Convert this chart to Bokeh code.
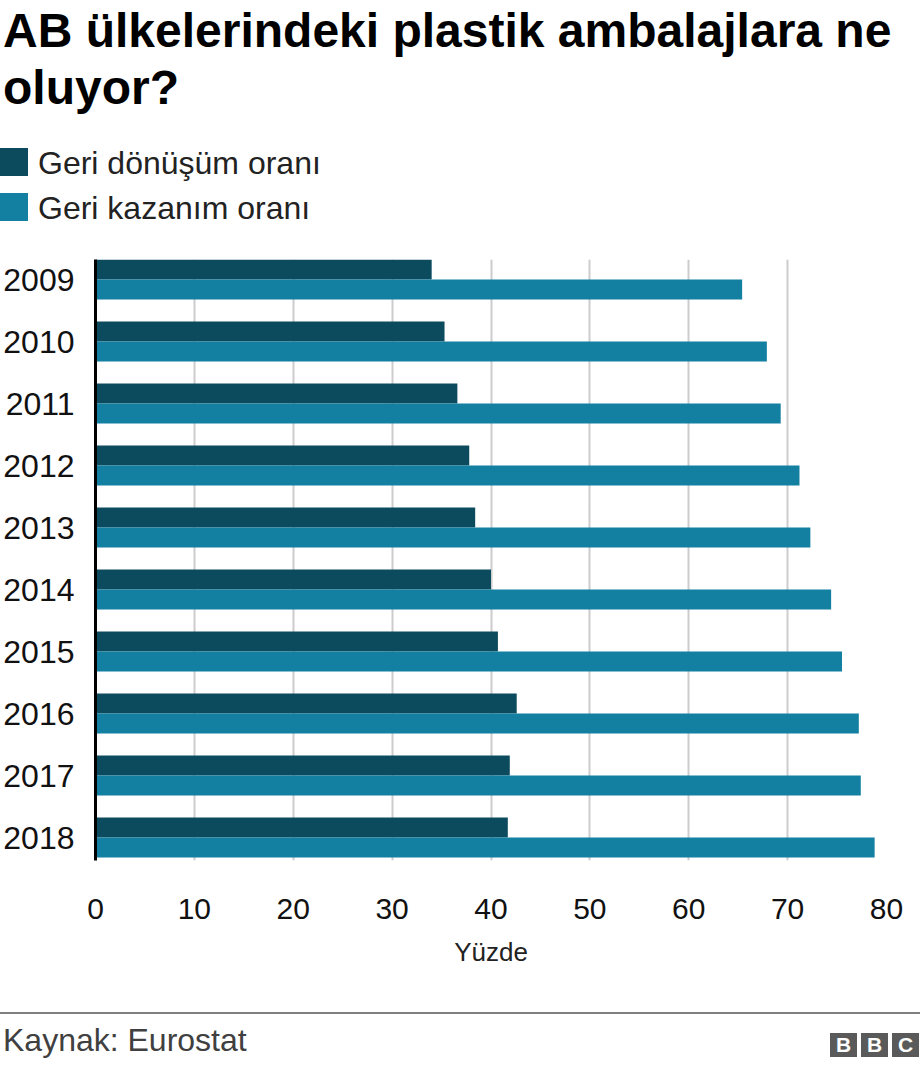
from bokeh.plotting import figure
from bokeh.models import Range1d, FixedTicker, ColumnDataSource, Div
from bokeh.transform import dodge
from bokeh.layouts import column
from bokeh.embed import file_html
from bokeh.resources import INLINE

# ---- data ----
years = ["2009", "2010", "2011", "2012", "2013", "2014", "2015", "2016", "2017", "2018"]
recycling_rate = [34.0, 35.3, 36.6, 37.8, 38.4, 40.0, 40.7, 42.6, 41.9, 41.7]
recovery_rate = [65.4, 67.9, 69.3, 71.2, 72.3, 74.4, 75.5, 77.2, 77.4, 78.8]
series_names = ["Geri dönüşüm oranı", "Geri kazanım oranı"]
x_ticks = [0, 10, 20, 30, 40, 50, 60, 70, 80]
title_lines = ["AB ülkelerindeki plastik ambalajlara ne", "oluyor?"]
x_label = "Yüzde"
source_text = "Kaynak: Eurostat"
logo_letters = ["B", "B", "C"]

# ---- style ----
FONT = "Liberation Sans"
COLORS = ["#0c4b5e", "#1380a1"]
BAR_H = 20 / 62.0
W = 920
HEADER_H = 259
FOOTER_H = 68
MAIN_H = 1068 - HEADER_H - FOOTER_H

# ---- header (title + legend) ----
legend_rows = ""
for i, (name, col) in enumerate(zip(series_names, COLORS)):
    sq_top = 148 + 45 * i
    legend_rows += (
        f'<div style="position:absolute;left:0px;top:{sq_top}px;width:28px;height:28px;'
        f'background:{col};"></div>'
        f'<div style="position:absolute;left:38px;top:{sq_top - 0.6}px;font-size:32px;'
        f'line-height:32px;color:#222222;white-space:nowrap;">{name}</div>'
    )
header_html = (
    f'<div style="position:relative;width:{W}px;height:{HEADER_H}px;'
    f'font-family:\'{FONT}\';">'
    f'<div style="position:absolute;left:3px;top:1.9px;font-size:48px;font-weight:bold;'
    f'line-height:57px;color:#000000;white-space:nowrap;">'
    + "<br>".join(title_lines) +
    '</div>' + legend_rows + '</div>'
)
header = Div(text=header_html, width=W, height=HEADER_H, margin=0)

# ---- main chart ----
positions = list(range(len(years)))
src = ColumnDataSource(dict(pos=positions, year=years,
                            recycling=recycling_rate, recovery=recovery_rate))

p = figure(width=W, height=MAIN_H,
           x_range=Range1d(0, 80),
           y_range=Range1d(len(years) - 1 + 23 / 62.0, -20 / 62.0),
           output_backend="svg", toolbar_location=None,
           min_border_left=94, min_border_right=34,
           min_border_top=0, min_border_bottom=140)
p.outline_line_color = None

p.hbar(y=dodge("pos", -BAR_H / 2), left=0, right="recycling", height=BAR_H,
       fill_color=COLORS[0], line_color=None, source=src)
p.hbar(y=dodge("pos", BAR_H / 2), left=0, right="recovery", height=BAR_H,
       fill_color=COLORS[1], line_color=None, source=src)

p.ygrid.visible = False
p.xgrid.ticker = FixedTicker(ticks=x_ticks[1:])
p.xgrid.grid_line_color = "#cccccc"
p.xgrid.grid_line_width = 2

xa = p.xaxis[0]
xa.ticker = FixedTicker(ticks=x_ticks)
xa.axis_line_color = None
xa.major_tick_line_color = None
xa.minor_tick_line_color = None
xa.major_tick_out = 0
xa.major_label_standoff = 38
xa.major_label_text_font = FONT
xa.major_label_text_font_size = "30px"
xa.major_label_text_color = "#111111"
xa.axis_label = x_label
xa.axis_label_text_font = FONT
xa.axis_label_text_font_size = "26px"
xa.axis_label_text_font_style = "normal"
xa.axis_label_text_color = "#222222"
xa.axis_label_standoff = 15

ya = p.yaxis[0]
ya.ticker = FixedTicker(ticks=positions)
ya.major_label_overrides = {i: y for i, y in zip(positions, years)}
ya.axis_line_color = "black"
ya.axis_line_width = 3
ya.major_tick_line_color = None
ya.minor_tick_line_color = None
ya.major_tick_out = 0
ya.major_label_standoff = 21
ya.major_label_text_font = FONT
ya.major_label_text_font_size = "32px"
ya.major_label_text_color = "#111111"

# ---- footer (source + BBC logo) ----
logo_boxes = ""
for i, letter in enumerate(logo_letters):
    logo_boxes += (
        f'<div style="position:absolute;left:{830 + 31 * i}px;top:33px;width:27px;height:24px;'
        f'background:#5a5a5a;color:#ffffff;font-weight:bold;font-size:21px;line-height:24px;'
        f'text-align:center;">{letter}</div>'
    )
footer_html = (
    f'<div style="position:relative;width:{W}px;height:{FOOTER_H}px;'
    f'font-family:\'{FONT}\';">'
    f'<div style="position:absolute;left:0px;top:11.5px;width:{W}px;height:2px;'
    f'background:#808080;"></div>'
    f'<div style="position:absolute;left:3px;top:23.9px;font-size:32px;line-height:32px;'
    f'color:#404040;white-space:nowrap;">{source_text}</div>'
    + logo_boxes + '</div>'
)
footer = Div(text=footer_html, width=W, height=FOOTER_H, margin=0)

layout = column(header, p, footer, spacing=0)

open("out.html", "w").write(file_html(layout, INLINE))
